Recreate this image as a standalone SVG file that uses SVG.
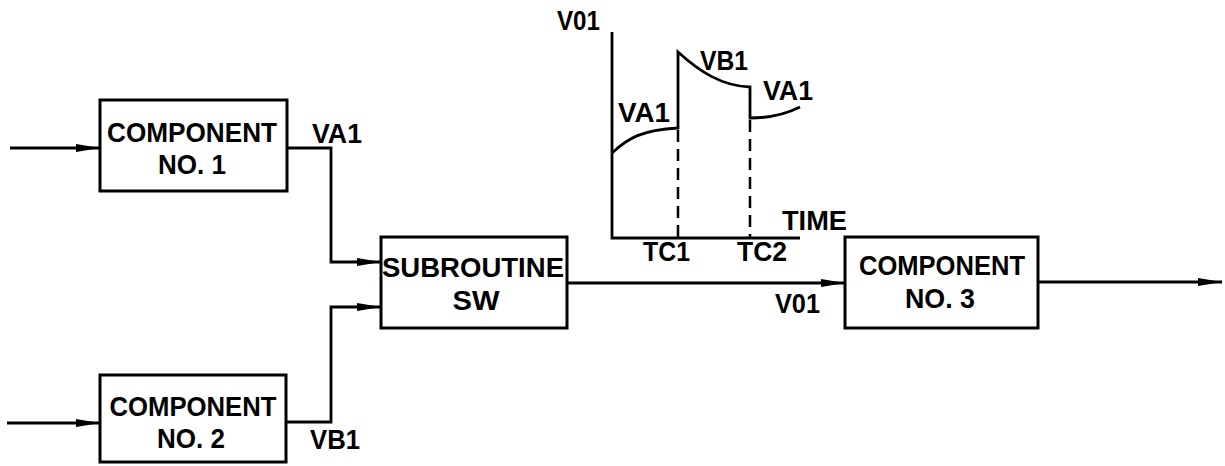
<svg xmlns="http://www.w3.org/2000/svg" width="1225" height="466" viewBox="0 0 1225 466">
<defs>
<style>
.box{fill:none;stroke:#000;stroke-width:3}
.ln{fill:none;stroke:#000;stroke-width:2.8}
.dash{fill:none;stroke:#000;stroke-width:2.5;stroke-dasharray:12 7}
text{font-family:"Liberation Sans",Arial,sans-serif;font-weight:bold;font-size:27.5px;fill:#000}
.c{text-anchor:middle}
</style>
<marker id="arr" markerUnits="userSpaceOnUse" markerWidth="26" markerHeight="12" refX="24" refY="6" orient="auto">
<path d="M0,2 L24,6 L0,10 Z" fill="#000"/>
</marker>
</defs>
<rect width="1225" height="466" fill="#fff"/>

<g id="connectors">
<path class="ln" d="M10,148 H100" marker-end="url(#arr)"/>
<path class="ln" d="M287,148 H331 V262 H381" marker-end="url(#arr)"/>
<path class="ln" d="M7,423 H100" marker-end="url(#arr)"/>
<path class="ln" d="M286,422 H331 V307 H381" marker-end="url(#arr)"/>
<path class="ln" d="M567,283 H845" marker-end="url(#arr)"/>
<path class="ln" d="M1038,282 H1222" marker-end="url(#arr)"/>
<text x="312" y="143" textLength="50" lengthAdjust="spacingAndGlyphs">VA1</text>
<text x="310" y="449" textLength="50" lengthAdjust="spacingAndGlyphs">VB1</text>
<text x="775" y="313" textLength="45" lengthAdjust="spacingAndGlyphs">V01</text>
</g>

<g id="component1">
<rect class="box" x="100" y="100" width="187" height="91"/>
<text class="c" x="192" y="142" textLength="170" lengthAdjust="spacingAndGlyphs">COMPONENT</text>
<text class="c" x="192" y="174" textLength="68" lengthAdjust="spacingAndGlyphs">NO. 1</text>
</g>

<g id="component2">
<rect class="box" x="100" y="375" width="186" height="87"/>
<text class="c" x="193" y="416" textLength="167" lengthAdjust="spacingAndGlyphs">COMPONENT</text>
<text class="c" x="191" y="448" textLength="68" lengthAdjust="spacingAndGlyphs">NO. 2</text>
</g>

<g id="subroutine">
<rect class="box" x="381" y="237" width="186" height="91"/>
<text class="c" x="473" y="277" textLength="182" lengthAdjust="spacingAndGlyphs">SUBROUTINE</text>
<text class="c" x="476" y="310" textLength="47" lengthAdjust="spacingAndGlyphs">SW</text>
</g>

<g id="component3">
<rect class="box" x="845" y="237" width="193" height="91"/>
<text class="c" x="942" y="275" textLength="166" lengthAdjust="spacingAndGlyphs">COMPONENT</text>
<text class="c" x="940" y="308" textLength="70" lengthAdjust="spacingAndGlyphs">NO. 3</text>
</g>

<g id="graph">
<path class="ln" d="M612,32 V238 H800"/>
<path class="ln" stroke-width="3.2" d="M612,153 C628,138 642,130 678,128 L678,52 C700,72 722,86 750,87 L750,118 C770,118 786,114 800,107"/>
<path class="dash" d="M678,130 V238"/>
<path class="dash" d="M750,120 V238"/>
<text x="557" y="30" textLength="43" lengthAdjust="spacingAndGlyphs">V01</text>
<text x="618" y="122" textLength="52" lengthAdjust="spacingAndGlyphs">VA1</text>
<text x="700" y="70" textLength="48" lengthAdjust="spacingAndGlyphs">VB1</text>
<text x="763" y="100" textLength="50" lengthAdjust="spacingAndGlyphs">VA1</text>
<text x="782" y="230" textLength="65" lengthAdjust="spacingAndGlyphs">TIME</text>
<text x="643" y="261" textLength="47" lengthAdjust="spacingAndGlyphs">TC1</text>
<text x="737" y="261" textLength="50" lengthAdjust="spacingAndGlyphs">TC2</text>
</g>
</svg>
